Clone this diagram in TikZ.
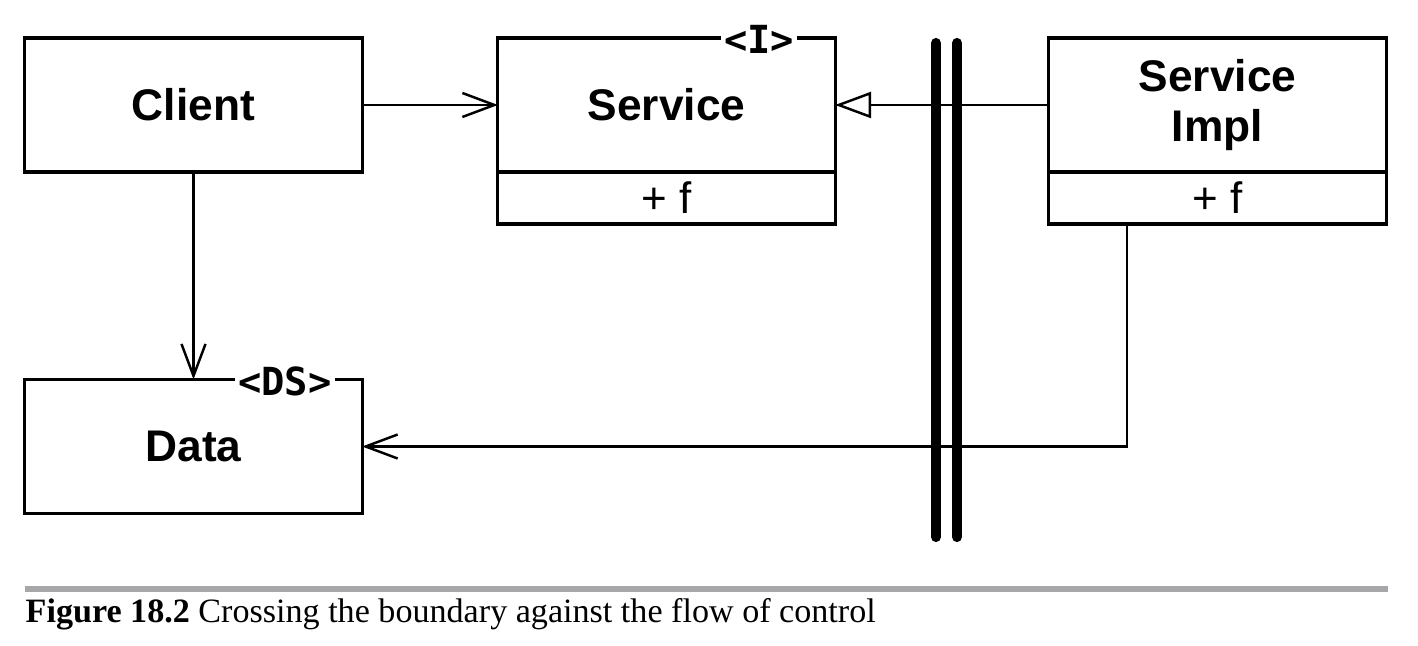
\documentclass[tikz,border=0pt]{standalone}
\usepackage{fontspec}
\setmainfont{Liberation Serif}
\newfontfamily\umlfont{Liberation Sans}
\newfontfamily\stereofont{DejaVu Sans Mono}
\usepackage{tikz}
\usetikzlibrary{arrows.meta,positioning}
\definecolor{rulegray}{HTML}{A7A7A9}
\tikzset{
    classbox/.style={draw, line width=0.9pt, inner sep=0pt, outer sep=0pt,
        minimum width=3.37cm, minimum height=1.34cm, align=center,
        font=\umlfont\bfseries\fontsize{12.6}{14.2}\selectfont},
    opbox/.style={draw, line width=0.9pt, inner sep=0pt, outer sep=0pt,
        minimum width=3.37cm, minimum height=0.52cm,
        font=\umlfont\fontsize{12.5}{14}\selectfont},
    stereo/.style={fill=white, inner sep=1pt,
        font=\stereofont\bfseries\fontsize{11}{13}\selectfont},
    dep/.style={line width=0.7pt, -{Straight Barb[length=3.2mm,width=2.4mm]}},
    realize/.style={line width=0.7pt, -{Triangle[open,length=3.6mm,width=2.6mm,fill=white]}},
    boundary/.style={line width=2.9pt, line cap=round},
}
\begin{document}
\begin{tikzpicture}[x=0.01cm, y=-0.01cm]
    \useasboundingbox (0,0) rectangle (1418,646);
    % classes
    \node[classbox] (client) at (193.5,105) {Client};
    \node[classbox] (svc) at (666.5,105) {Service};
    \node[opbox, below=0pt of svc] (svcop) {+ f};
    \node[classbox] (impl) at (1217.5,105) {Service\\Impl};
    \node[opbox, below=0pt of impl] (implop) {+ f};
    \node[classbox] (data) at (193.5,446.5) {Data};
    % stereotypes
    \node[stereo] (svcst) at (759,39) {<I>};
    \node[stereo] (datast) at (285,381) {<DS>};
    % boundary
    \draw[boundary]
    (936,43) to (936,537)
    (957,43) to (957,537)
    ;
    % connectors
    \draw[dep] (client.east) -- (svc.west);
    \draw[dep] (client.south) -- (data.north);
    \draw[realize] (impl.west) -- (svc.east);
    \draw[dep] ([xshift=-0.905cm]implop.south) |- (data.east);
    % caption
    \fill[rulegray] (25,586) rectangle (1388,592);
    \node[anchor=base west, inner sep=0pt, font=\fontsize{9.7}{12}\selectfont] (caption) at (25,622)
    {\textbf{Figure 18.2} Crossing the boundary against the flow of control};
\end{tikzpicture}
\end{document}
